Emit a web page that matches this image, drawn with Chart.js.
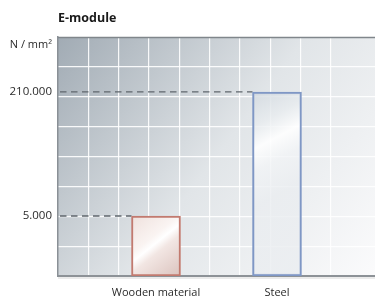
<!DOCTYPE html>
<html>
<head>
<meta charset="utf-8">
<script src="https://cdn.jsdelivr.net/npm/chart.js@4/dist/chart.umd.min.js"></script>
<style>
  html, body { margin: 0; padding: 0; background: #ffffff; }
  #wrap { width: 375px; height: 300px; }
</style>
</head>
<body>
<div id="wrap"><canvas id="c" width="375" height="300"></canvas></div>
<script>
// ---- data ----
const chartTitle = 'E-module';
const unitLabel = 'N / mm²';
const categories = ['Wooden material', 'Steel'];
const eModulus = [5000, 210000];
const tickValues = [5000, 210000];
const tickLabels = ['5.000', '210.000'];
const barBorderColors = ['#c27a6f', '#7f97c5'];

const FONT = '"Open Sans", "Noto Sans", sans-serif';

function barGradient(c) {
  const chart = c.chart;
  const i = c.dataIndex;
  const xs = chart.scales.x, ys = chart.scales.y, area = chart.chartArea;
  if (!xs || !ys || !area || c.type !== 'data') return '#eee';
  const cx = xs.getPixelForValue(c.raw.x);
  const top = ys.getPixelForValue(c.raw.y);
  const bottom = area.bottom;
  const ctx = chart.ctx;
  if (i === 0) {
    const g = ctx.createLinearGradient(cx - 24, top, cx + 24, bottom);
    g.addColorStop(0, '#efe1dd');
    g.addColorStop(0.38, '#faf4f2');
    g.addColorStop(0.47, '#ffffff');
    g.addColorStop(0.58, '#f2e6e3');
    g.addColorStop(1, '#dbc3be');
    return g;
  }
  const g = ctx.createLinearGradient(cx - 24, top, cx + 24, top + 90);
  g.addColorStop(0, 'rgba(210,217,223,0.85)');
  g.addColorStop(0.3, 'rgba(232,236,239,0.8)');
  g.addColorStop(0.5, 'rgba(255,255,255,0.9)');
  g.addColorStop(0.7, 'rgba(242,244,246,0.8)');
  g.addColorStop(1, 'rgba(234,237,240,0.8)');
  return g;
}

const decor = {
  id: 'decor',
  beforeDraw(chart) {
    const { ctx, chartArea: a } = chart;
    ctx.save();
    const g = ctx.createLinearGradient(a.left, a.top, a.right, a.bottom);
    g.addColorStop(0, '#a1abb4');
    g.addColorStop(0.5, '#e1e5e8');
    g.addColorStop(1, '#fbfbfc');
    ctx.fillStyle = g;
    ctx.fillRect(a.left, a.top, a.right - a.left, a.bottom - a.top);
    ctx.restore();
  },
  beforeDatasetsDraw(chart) {
    const { ctx, chartArea: a } = chart;
    const meta = chart.getDatasetMeta(0);
    ctx.save();
    ctx.strokeStyle = '#5f666c';
    ctx.lineWidth = 1.3;
    ctx.setLineDash([6.5, 4.5]);
    meta.data.forEach((bar, i) => {
      const y = chart.scales.y.getPixelForValue(eModulus[i]);
      const xEnd = bar.x - bar.width / 2;
      ctx.beginPath();
      ctx.moveTo(a.left + 2, y);
      ctx.lineTo(xEnd, y);
      ctx.stroke();
    });
    ctx.restore();
  },
  afterDraw(chart) {
    const { ctx, chartArea: a } = chart;
    ctx.save();
    // top border
    ctx.strokeStyle = '#80868b';
    ctx.lineWidth = 1.5;
    ctx.beginPath();
    ctx.moveTo(a.left, a.top + 0.5);
    ctx.lineTo(a.right, a.top + 0.5);
    ctx.stroke();
    // soft shadow under bottom border
    ctx.strokeStyle = 'rgba(0,0,0,0.08)';
    ctx.lineWidth = 2;
    ctx.beginPath();
    ctx.moveTo(a.left, a.bottom + 2);
    ctx.lineTo(a.right, a.bottom + 2);
    ctx.stroke();
    // unit label
    ctx.fillStyle = '#2b2b2b';
    ctx.font = '11px ' + FONT;
    ctx.textAlign = 'right';
    ctx.textBaseline = 'middle';
    ctx.fillText(unitLabel, a.left - 6, a.top + 8);
    ctx.restore();
  }
};

new Chart(document.getElementById('c'), {
  type: 'bar',
  data: {
    labels: categories,
    datasets: [{
      data: eModulus.map((v, i) => ({ x: i + 1, y: v })),
      backgroundColor: barGradient,
      borderColor: barBorderColors,
      borderWidth: 2,
      borderSkipped: false,
      barThickness: 49
    }]
  },
  options: {
    responsive: false,
    animation: false,
    layout: { padding: { left: 0, right: 0, top: 0, bottom: 0 } },
    plugins: {
      legend: { display: false },
      tooltip: { enabled: false },
      title: {
        display: true,
        text: chartTitle,
        align: 'start',
        fullSize: false,
        color: '#1a1a1a',
        font: { family: FONT, size: 12.5, weight: 'bold' },
        padding: { top: 11, bottom: 11 }
      }
    },
    scales: {
      x: {
        type: 'linear',
        position: 'bottom',
        offset: false,
        min: 0.19,
        max: 2.81,
        grid: { display: false, drawTicks: false, offset: false },
        border: { display: true, color: '#8d9297', width: 2 },
        afterBuildTicks: s => { s.ticks = categories.map((_, i) => ({ value: i + 1 })); },
        afterFit: s => { s.height = 24; },
        ticks: {
          color: '#2a2a2a',
          font: { family: FONT, size: 11 },
          padding: 10,
          maxRotation: 0,
          autoSkip: false,
          callback: v => categories[Math.round(v) - 1]
        }
      },
      gx: {
        type: 'linear',
        position: 'bottom',
        offset: false,
        min: 0,
        max: 10.46,
        ticks: { display: false, stepSize: 1 },
        grid: {
          offset: false,
          drawTicks: false,
          lineWidth: 1.2,
          color: c => (c.tick && (c.tick.value === 0 || c.tick.value > 10.4)) ? 'rgba(0,0,0,0)' : 'rgba(255,255,255,0.9)'
        },
        border: { display: false }
      },
      y: {
        type: 'logarithmic',
        position: 'left',
        min: 820,
        max: 1100000,
        grid: { display: false, drawTicks: false },
        border: { display: true, color: '#8a9096', width: 1.5 },
        afterBuildTicks: s => { s.ticks = tickValues.map(v => ({ value: v })); },
        afterFit: s => { s.width = 58; },
        ticks: {
          color: '#2b2b2b',
          font: { family: FONT, size: 11.5 },
          padding: 6,
          autoSkip: false,
          callback: v => tickLabels[tickValues.indexOf(v)]
        }
      },
      gy: {
        type: 'linear',
        position: 'left',
        min: 0,
        max: 8,
        ticks: { display: false, stepSize: 1 },
        grid: {
          drawTicks: false,
          lineWidth: 1.2,
          color: c => (c.tick && (c.tick.value === 0 || c.tick.value === 8)) ? 'rgba(0,0,0,0)' : 'rgba(255,255,255,0.9)'
        },
        border: { display: false }
      }
    }
  },
  plugins: [decor]
});
</script>
</body>
</html>
